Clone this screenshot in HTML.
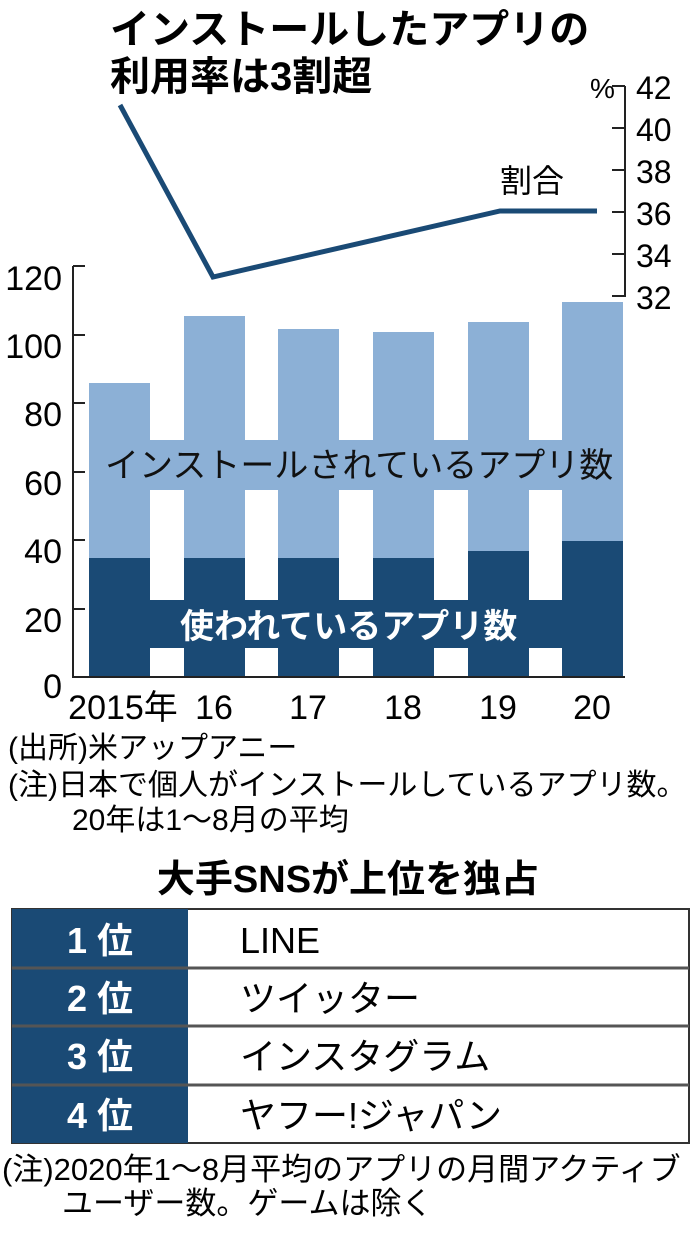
<!DOCTYPE html><html><head><meta charset="utf-8"><style>
body{margin:0;width:696px;height:1237px;background:#fff;overflow:hidden;font-family:"Liberation Sans","Noto Sans CJK JP",sans-serif;color:#111}
svg text{font-family:"Liberation Sans","Noto Sans CJK JP",sans-serif}
</style></head><body>
<svg width="696" height="1237" xmlns="http://www.w3.org/2000/svg">
<text x="110" y="43" font-size="40" font-weight="bold">インストールしたアプリの</text>
<text x="110" y="90" font-size="40" font-weight="bold">利用率は3割超</text>
<line x1="625" y1="86" x2="625" y2="297" stroke="#222" stroke-width="2"/>
<g stroke="#222" stroke-width="2">
<line x1="625" y1="86" x2="612" y2="86"/><line x1="625" y1="128" x2="612" y2="128"/><line x1="625" y1="170" x2="612" y2="170"/><line x1="625" y1="212" x2="612" y2="212"/><line x1="625" y1="254" x2="612" y2="254"/><line x1="625" y1="296" x2="612" y2="296"/></g>
<g font-size="32">
<text x="636" y="99">42</text><text x="636" y="141">40</text><text x="636" y="183">38</text><text x="636" y="225">36</text><text x="636" y="267">34</text><text x="636" y="309">32</text></g>
<text x="590" y="98" font-size="28">%</text>
<text x="500" y="192" font-size="32">割合</text>
<polyline points="120,105 213,277 500,211 597,211" fill="none" stroke="#1a4a75" stroke-width="5"/>
<g fill="#8cb0d6">
<rect x="89" y="383" width="61" height="294"/>
<rect x="184" y="316" width="61" height="361"/>
<rect x="278" y="329" width="61" height="348"/>
<rect x="373" y="332" width="61" height="345"/>
<rect x="468" y="322" width="61" height="355"/>
<rect x="562" y="302" width="61" height="375"/>
<rect x="100" y="440" width="515" height="50"/>
</g>
<g fill="#1a4a75">
<rect x="89" y="558" width="61" height="119"/>
<rect x="184" y="558" width="61" height="119"/>
<rect x="278" y="558" width="61" height="119"/>
<rect x="373" y="558" width="61" height="119"/>
<rect x="468" y="551" width="61" height="126"/>
<rect x="562" y="541" width="61" height="136"/>
<rect x="89" y="600" width="534" height="48"/>
</g>
<text x="105" y="477" font-size="34" fill="#111">インストールされているアプリ数</text>
<text x="180" y="638" font-size="34" font-weight="bold" fill="#fff">使われているアプリ数</text>
<line x1="73" y1="266" x2="73" y2="678" stroke="#222" stroke-width="2"/>
<line x1="72" y1="677" x2="625" y2="677" stroke="#222" stroke-width="2"/>
<g stroke="#222" stroke-width="2">
<line x1="73" y1="266" x2="85" y2="266"/><line x1="73" y1="335" x2="85" y2="335"/><line x1="73" y1="403" x2="85" y2="403"/><line x1="73" y1="472" x2="85" y2="472"/><line x1="73" y1="540" x2="85" y2="540"/><line x1="73" y1="609" x2="85" y2="609"/></g>
<g font-size="34" text-anchor="end">
<text x="62" y="290">120</text><text x="62" y="358">100</text><text x="62" y="426">80</text><text x="62" y="495">60</text><text x="62" y="563">40</text><text x="62" y="632">20</text><text x="62" y="698">0</text></g>
<g font-size="34" text-anchor="middle">
<text x="123" y="719">2015年</text><text x="214" y="719">16</text><text x="308" y="719">17</text><text x="403" y="719">18</text><text x="498" y="719">19</text><text x="592" y="719">20</text></g>
<g font-size="30">
<text x="8" y="758">(出所)米アップアニー</text>
<text x="8" y="795">(注)日本で個人がインストールしているアプリ数。</text>
<text x="72" y="830">20年は1～8月の平均</text>
</g>
<text x="348" y="892" font-size="38" font-weight="bold" text-anchor="middle">大手SNSが上位を独占</text>
<g>
<rect x="12" y="909" width="677" height="234" fill="#fff" stroke="#333" stroke-width="2"/>
<rect x="12" y="909" width="176" height="234" fill="#1a4a75"/>
<line x1="12" y1="968" x2="689" y2="968" stroke="#555" stroke-width="3"/>
<line x1="12" y1="1026" x2="689" y2="1026" stroke="#555" stroke-width="3"/>
<line x1="12" y1="1085" x2="689" y2="1085" stroke="#555" stroke-width="3"/>
<g fill="#fff" font-size="36" font-weight="bold" text-anchor="middle">
<text x="100" y="953">1 位</text><text x="100" y="1011">2 位</text><text x="100" y="1069">3 位</text><text x="100" y="1128">4 位</text></g>
<g font-size="36">
<text x="240" y="953">LINE</text><text x="240" y="1011">ツイッター</text><text x="240" y="1069">インスタグラム</text><text x="240" y="1128">ヤフー!ジャパン</text></g>
</g>
<g font-size="31">
<text x="2" y="1180">(注)2020年1～8月平均のアプリの月間アクティブ</text>
<text x="62" y="1214">ユーザー数。ゲームは除く</text>
</g>
</svg>
</body></html>
